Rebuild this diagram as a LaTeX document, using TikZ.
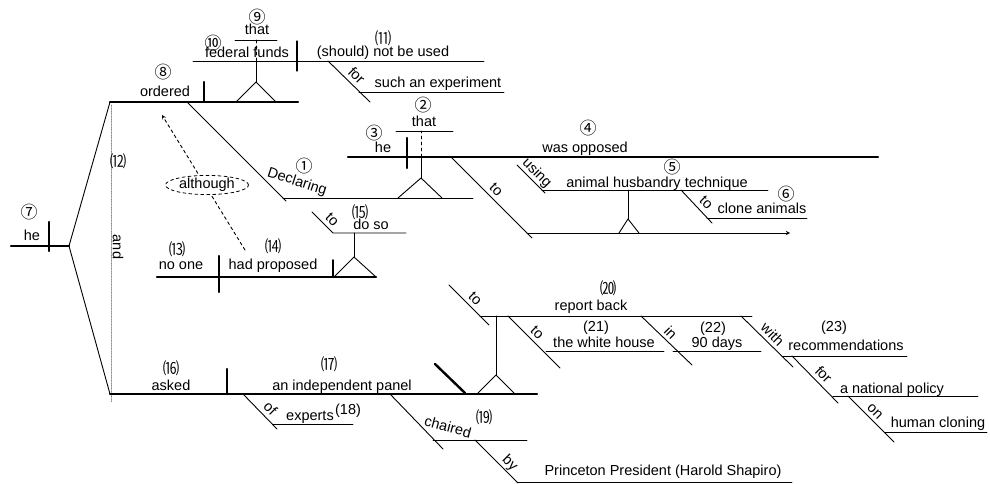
\documentclass[tikz,border=0pt]{standalone}
\usepackage{fontspec}
\setmainfont{Liberation Sans}
\newfontfamily\cjk{Noto Sans CJK SC}
\usetikzlibrary{shapes.geometric}

\begin{document}
\begin{tikzpicture}[line cap=round,line join=round,x=1pt,y=-1pt,
    mainln/.style={line width=2.4pt},
    subln/.style={line width=0.9pt},
    lbl/.style={inner sep=0pt,font=\fontsize{14.5}{16}\selectfont},
    wd/.style={lbl,anchor=base},
    slant/.style={lbl,anchor=base,rotate=-45},
    num/.style={inner sep=0pt,font=\cjk\fontsize{17}{17}\selectfont},
    pnum/.style={inner sep=0pt,font=\cjk\fontsize{16.5}{17}\selectfont}]
    \useasboundingbox (0,0) rectangle (990,484);
    % he / ordered ... and asked ...
    \draw [mainln] (11,246)-- (69,246);
    \draw [mainln] (49,222)-- (49,251);
    \draw [subln] (69,246)-- (110,102);
    \draw [subln] (69,246)-- (110,394);
    \draw [line width=0.6pt,densely dotted,gray] (111,105)-- (111,402);
    % ordered that federal funds ...
    \draw [mainln] (110,102)-- (298,102);
    \draw [mainln] (204,82)-- (204,102);
    \draw [subln] (236,102)-- (256,82)-- (276,102);
    \draw [subln] (256,82)-- (256,61);
    \draw [subln,dashed] (256,61)-- (256,40);
    \draw [subln] (235,40)-- (277,40);
    \draw [subln] (193,61)-- (484,61);
    \draw [line width=1.3pt] (297,41)-- (297,71);
    \draw [subln] (328,61)-- (370,102);
    \draw [subln] (359,92)-- (504,92);
    % Declaring that he was opposed ...
    \draw [subln] (187,102)-- (286,201);
    \draw [subln] (283,198)-- (473,198);
    \draw [subln] (398,198)-- (421,178)-- (442,198);
    \draw [subln] (421,178)-- (421,157);
    \draw [subln,dashed] (421,157)-- (421,131);
    \draw [subln] (396,131)-- (453,131);
    \draw [mainln] (348,157)-- (878,157);
    \draw [mainln] (407,138)-- (407,168);
    \draw [subln] (451,157)-- (532,238);
    \draw [subln,->,>=stealth] (527,233)-- (790,233);
    \draw [subln] (619,233)-- (628,219)-- (639,233);
    \draw [subln] (628,219)-- (628,190);
    \draw [subln] (517,165)-- (545,193);
    \draw [subln] (542,190)-- (768,190);
    \draw [subln] (681,190)-- (712,223);
    \draw [subln] (707,218)-- (807,218);
    % no one had proposed to do so
    \draw [mainln] (157,277)-- (376,277);
    \draw [mainln] (219,256)-- (219,292);
    \draw [line width=1.6pt] (333,260)-- (333,277);
    \draw [subln] (334,277)-- (354,257)-- (376,277);
    \draw [subln] (354,257)-- (354,233);
    \draw [subln] (312,212)-- (333,233)-- (406,233);
    \coordinate (hadtip) at (245,250);
    \coordinate (ordtip) at (162,115);
    \draw [subln,dashed,->,>=stealth] (hadtip)-- (ordtip);
    \node [lbl,draw,dashed,line width=0.8pt,ellipse,fill=white,minimum width=83,minimum height=19] (although) at (207,185) {although};
    % asked an independent panel ...
    \draw [mainln] (110,394)-- (537,394);
    \draw [mainln] (227,369)-- (227,394);
    \draw [mainln] (435,364)-- (465,393);
    \draw [subln] (477,394)-- (496,375)-- (515,394);
    \draw [subln] (496,375)-- (496,316);
    \draw [subln] (449,285)-- (489,325);
    \draw [subln] (480,316)-- (752,316);
    \draw [subln] (508,316)-- (560,368);
    \draw [subln] (546,351)-- (664,351);
    \draw [subln] (641,316)-- (692,365);
    \draw [subln] (673,351)-- (761,351);
    \draw [subln] (741,316)-- (793,367);
    \draw [subln] (782,356)-- (907,356);
    \draw [subln] (792,356)-- (838,403);
    \draw [subln] (833,396)-- (978,396);
    \draw [subln] (848,396)-- (894,442);
    \draw [subln] (885,432)-- (987,432);
    \draw [subln] (243,394)-- (277,429);
    \draw [subln] (273,424)-- (353,424);
    \draw [subln] (390,394)-- (443,449);
    \draw [subln] (433,440)-- (527,440);
    \draw [subln] (475,440)-- (518,483);
    \draw [subln] (517,482)-- (792,482);
    % words
    \node [num] (n9) at (257,17) {⑨};
    \node [wd] (that1) at (257,35) {that};
    \node [num] (n10) at (213,43) {⑩};
    \node [wd] (funds) at (247,58) {federal funds};
    \node [pnum] (n11) at (383,38) {⑾};
    \node [wd] (used) at (383,57) {(should) not be used};
    \node [slant] (p-for1) at (353,79) {for};
    \node [wd] (experiment) at (438,88) {such an experiment};
    \node [num] (n8) at (163,72) {⑧};
    \node [wd] (ordered) at (165,97) {ordered};
    \node [num] (n2) at (423,105) {②};
    \node [wd] (that2) at (424,127) {that};
    \node [num] (n3) at (374,133) {③};
    \node [wd] (he2) at (383,152) {he};
    \node [num] (n4) at (588,128) {④};
    \node [wd] (opposed) at (585,152) {was opposed};
    \node [slant] (p-to1) at (493,193) {to};
    \node [slant] (p-using) at (534,176) {using};
    \node [num] (n5) at (672,167) {⑤};
    \node [wd] (technique) at (657,187) {animal husbandry technique};
    \node [slant] (p-to2) at (703,206) {to};
    \node [num] (n6) at (786,194) {⑥};
    \node [wd] (clone) at (762,213) {clone animals};
    \node [num] (n7) at (29,212) {⑦};
    \node [wd] (he1) at (32,240) {he};
    \node [pnum] (n12) at (118,161) {⑿};
    \node [lbl,rotate=-90] (p-and) at (118,247) {and};
    \node [pnum] (n13) at (177,249) {⒀};
    \node [wd] (noone) at (181,269) {no one};
    \node [pnum] (n14) at (273,246) {⒁};
    \node [wd] (proposed) at (273,269) {had proposed};
    \node [pnum] (n15) at (360,212) {⒂};
    \node [wd] (doso) at (371,229) {do so};
    \node [slant] (p-to3) at (329,223) {to};
    \node [num] (n1) at (304,166) {①};
    \node [lbl,rotate=-18] (declaring) at (297,182) {Declaring};
    \node [pnum] (n16) at (171,368) {⒃};
    \node [wd] (asked) at (171,390) {asked};
    \node [pnum] (n17) at (329,364) {⒄};
    \node [wd] (panel) at (342,390) {an independent panel};
    \node [slant] (p-of) at (267,412) {of};
    \node [wd] (experts) at (310,420) {experts};
    \node [lbl] (n18) at (348,411) {(18)};
    \node [lbl,rotate=-15] (chaired) at (448,427) {chaired};
    \node [pnum] (n19) at (484,417) {⒆};
    \node [slant] (p-by) at (507,466) {by};
    \node [wd] (shapiro) at (663,475) {Princeton President (Harold Shapiro)};
    \node [slant] (p-to4) at (472,302) {to};
    \node [pnum] (n20) at (608,288) {⒇};
    \node [wd] (report) at (591,310) {report back};
    \node [slant] (p-to5) at (534,336) {to};
    \node [lbl] (n21) at (596,328) {(21)};
    \node [wd] (house) at (604,347) {the white house};
    \node [slant] (p-in) at (667,336) {in};
    \node [lbl] (n22) at (713,329) {(22)};
    \node [wd] (days) at (717,347) {90 days};
    \node [slant] (p-with) at (769,338) {with};
    \node [lbl] (n23) at (834,328) {(23)};
    \node [wd] (recs) at (846,350) {recommendations};
    \node [slant] (p-for2) at (820,378) {for};
    \node [wd] (policy) at (892,393) {a national policy};
    \node [slant] (p-on) at (872,414) {on};
    \node [wd] (cloning) at (938,427) {human cloning};
\end{tikzpicture}
\end{document}
